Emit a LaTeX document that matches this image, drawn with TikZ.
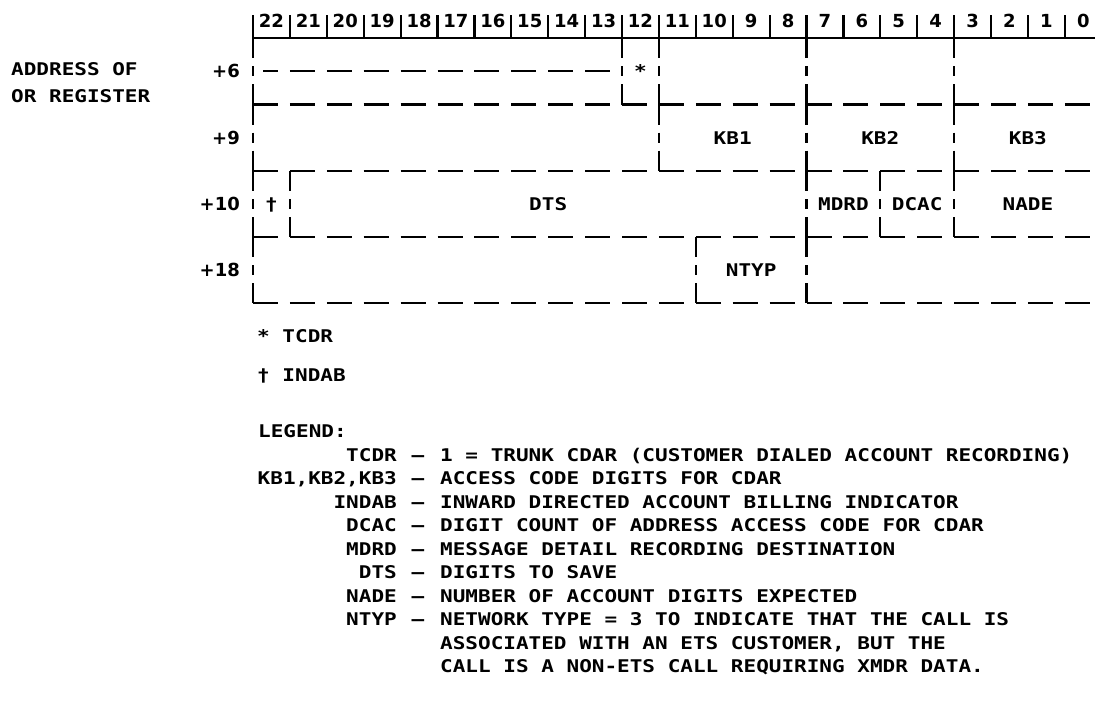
\documentclass[tikz,border=0pt]{standalone}
\usepackage{fontspec}
\setmainfont{DejaVu Sans}
\newfontfamily\regmono[FakeStretch=1.2]{DejaVu Sans Mono}
\begin{document}
\begin{tikzpicture}[x=1pt,y=-1pt,
  rule/.style={line width=2.2pt},
  hdash/.style={rule,dash pattern=on 25pt off 11.9pt},
  vdash/.style={rule,dash pattern=on 20pt off 8pt on 10pt off 8pt on 24pt off 20pt},
  mono/.style={font=\regmono\bfseries\fontsize{17.5pt}{20pt}\selectfont,inner sep=0pt},
  num/.style={font=\bfseries\fontsize{18pt}{20pt}\selectfont,inner sep=0pt}]
\useasboundingbox[fill=white] (0,0) rectangle (1095,702);
\def\bx#1{253+36.9*#1}
% header
\foreach \k in {0,...,22} \draw[rule] ({\bx{\k}},15) -- ({\bx{\k}},38);
\draw[rule] (253,38) -- (1095,38);
\foreach \b [count=\i from 0] in {22,21,...,0}
  \node[num] (bit\b) at ({\bx{\i}+18.45},21) {\b};
% horizontal dashed row lines
\foreach \y in {104.5,171,237,303} \draw[hdash] (253,\y) -- (1095,\y);
\draw[hdash,dash phase=10pt] (263,71) -- (617,71);
% vertical boundaries per row
\foreach \k in {0,10,11,15,19} \draw[vdash] ({\bx{\k}},38) -- ({\bx{\k}},104.5);
\foreach \k in {0,11,15,19} \draw[vdash] ({\bx{\k}},104.5) -- ({\bx{\k}},171);
\foreach \k in {0,1,15,17,19} \draw[vdash] ({\bx{\k}},171) -- ({\bx{\k}},237);
\foreach \k in {0,12,15} \draw[vdash] ({\bx{\k}},237) -- ({\bx{\k}},303);
% left labels
\node[mono,anchor=base west] (addr1) at (11,75.5) {ADDRESS OF};
\node[mono,anchor=base west] (addr2) at (11,102.5) {OR REGISTER};
% row offsets
\node[num,anchor=east] (r6) at (240,71) {+6};
\node[num,anchor=east] (r9) at (240,137.5) {+9};
\node[num,anchor=east] (r10) at (240,204) {+10};
\node[num,anchor=east] (r18) at (240,270) {+18};
% fields
\node[mono,anchor=base] (tcdr) at ({\bx{10}+18.45},77.5) {*};
\node[mono,anchor=base] (kb1) at ({\bx{13}},144) {KB1};
\node[mono,anchor=base] (kb2) at ({\bx{17}},144) {KB2};
\node[mono,anchor=base] (kb3) at ({\bx{21}},144) {KB3};
\node[mono,anchor=base] (indab) at ({\bx{0}+18.45},210.5) {†};
\node[mono,anchor=base] (dts) at ({\bx{8}},210.5) {DTS};
\node[mono,anchor=base] (mdrd) at ({\bx{16}},210.5) {MDRD};
\node[mono,anchor=base] (dcac) at ({\bx{18}},210.5) {DCAC};
\node[mono,anchor=base] (nade) at ({\bx{21}},210.5) {NADE};
\node[mono,anchor=base] (ntyp) at ({\bx{13.5}},276.5) {NTYP};
% footnotes
\node[mono,anchor=base west] (fn1) at (257,342.5) {* TCDR};
\node[mono,anchor=base west] (fn2) at (257,381.5) {† INDAB};
% legend
\node[mono,anchor=base west] (leg) at (258,437.5) {LEGEND:};
\foreach \lab/\txt [count=\i from 0] in {
  TCDR/{1 = TRUNK CDAR (CUSTOMER DIALED ACCOUNT RECORDING)},
  {KB1,KB2,KB3}/{ACCESS CODE DIGITS FOR CDAR},
  INDAB/{INWARD DIRECTED ACCOUNT BILLING INDICATOR},
  DCAC/{DIGIT COUNT OF ADDRESS ACCESS CODE FOR CDAR},
  MDRD/{MESSAGE DETAIL RECORDING DESTINATION},
  DTS/{DIGITS TO SAVE},
  NADE/{NUMBER OF ACCOUNT DIGITS EXPECTED},
  NTYP/{NETWORK TYPE = 3 TO INDICATE THAT THE CALL IS}}{
  \node[mono,anchor=base east] (lab\i) at (397,{461+23.5*\i}) {\lab};
  \node[mono,anchor=base] (dash\i) at (418,{461+23.5*\i}) {–};
  \node[mono,anchor=base west] (txt\i) at (440,{461+23.5*\i}) {\txt};
}
\node[mono,anchor=base west] (txt8) at (440,{461+23.5*8}) {ASSOCIATED WITH AN ETS CUSTOMER, BUT THE};
\node[mono,anchor=base west] (txt9) at (440,{461+23.5*9}) {CALL IS A NON-ETS CALL REQUIRING XMDR DATA.};
\end{tikzpicture}
\end{document}
